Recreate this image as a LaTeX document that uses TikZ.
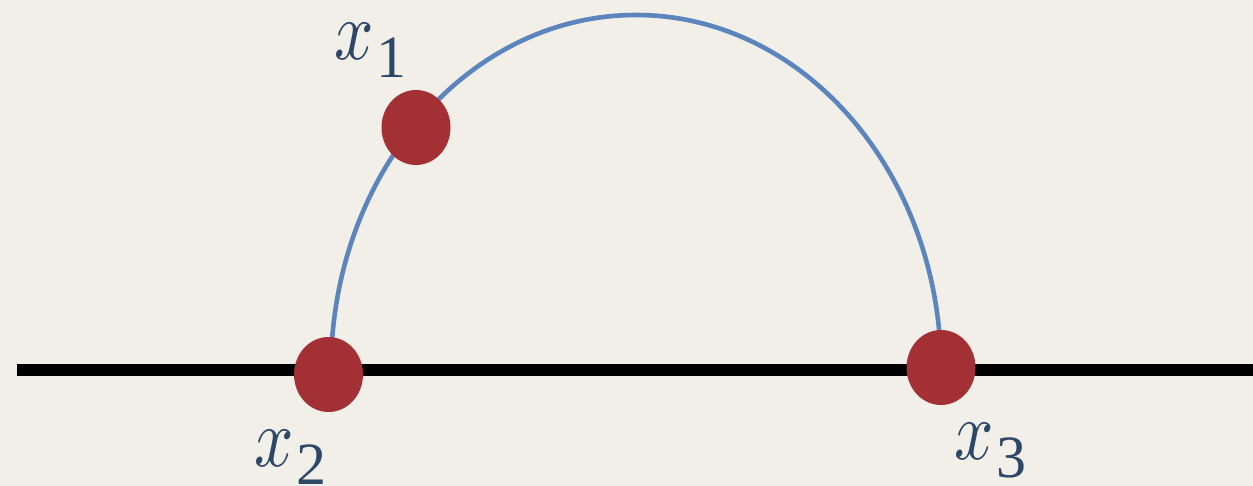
\documentclass[tikz,border=0pt]{standalone}
\usepackage{fontspec}
\setmainfont{Liberation Serif}
\usetikzlibrary{shapes.geometric}
\definecolor{bg}{RGB}{242,239,233}
\definecolor{dotred}{RGB}{163,48,53}
\definecolor{arcblue}{RGB}{92,133,190}
\definecolor{labblue}{RGB}{44,72,105}
\tikzset{
  pt/.style={ellipse, fill=dotred, draw=none, minimum width=69pt, minimum height=75pt, inner sep=0pt},
  lab/.style={anchor=base west, inner sep=0pt, text=labblue},
  axis/.style={line width=12.6pt, black},
  curve/.style={line width=4.6pt, arcblue}
}
\newcommand{\lbl}[1]{\scalebox{6.9}[8.4]{$x$}\hspace{3pt}\raisebox{-18pt}{\fontsize{60}{60}\selectfont #1}}
\begin{document}
\begin{tikzpicture}[x=1pt,y=1pt]
\fill[bg] (0,0) rectangle (1253,486);
\useasboundingbox (0,0) rectangle (1253,486);
\coordinate (L) at (16.5,116);
\coordinate (R) at (1253,116);
\coordinate (c) at (636,116);
\draw[axis] (L) -- (R);
\draw[curve] (c) ++(180:305 and 355) arc[start angle=180, end angle=0, x radius=305, y radius=355];
\node[pt] (d1) at (416,358.5) {};
\node[pt] (d2) at (328.5,111.5) {};
\node[pt] (d3) at (941,118.5) {};
\node[lab] (l1) at (334,426) {\lbl{1}};
\node[lab] (l2) at (254,19) {\lbl{2}};
\node[lab] (l3) at (954,26) {\lbl{3}};
\end{tikzpicture}
\end{document}
